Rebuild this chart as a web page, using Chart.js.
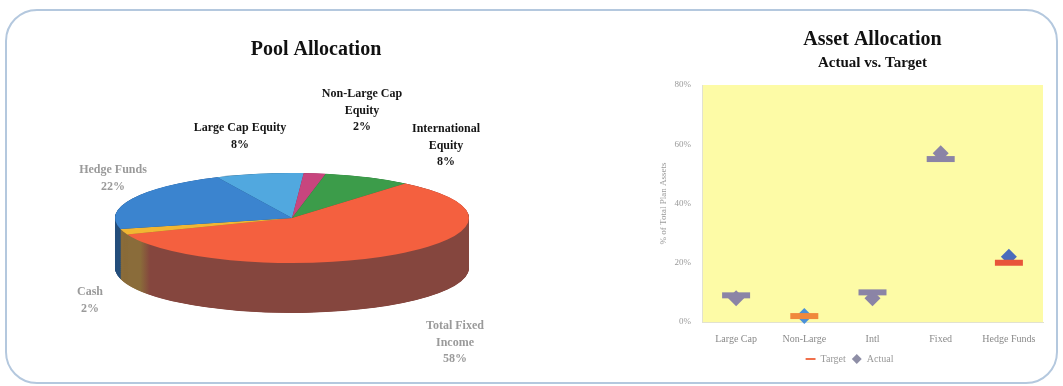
<!DOCTYPE html>
<html>
<head>
<title>Pool Allocation / Asset Allocation</title>
<script src="https://cdn.jsdelivr.net/npm/chart.js"></script>
<style>
  body { margin: 0; background: #fff; width: 1063px; height: 386px; overflow: hidden; position: relative; }
  .panel {
    position: absolute; left: 5px; top: 9px; width: 1049px; height: 371px;
    border: 2px solid #b4c8de; border-radius: 32px;
  }
  #pie { position: absolute; left: 0; top: 0; }
  #asset { position: absolute; left: 640px; top: 0; }
</style>
</head>
<body>
<div class="panel"></div>
<canvas id="pie" width="632" height="386"></canvas>
<canvas id="asset" width="423" height="386"></canvas>

<script>
// ---- data ----
const poolLabels = ['Large Cap Equity', 'Non-Large Cap Equity', 'International Equity', 'Total Fixed Income', 'Cash', 'Hedge Funds'];
const poolValues = [8, 2, 8, 58, 2, 22];
const poolLabelLines = [['Large Cap Equity'], ['Non-Large Cap', 'Equity'], ['International', 'Equity'], ['Total Fixed', 'Income'], ['Cash'], ['Hedge Funds']];

const assetCats = ['Large Cap', 'Non-Large', 'Intl', 'Fixed', 'Hedge Funds'];
const targetValues = [9, 2, 10, 55, 20];
const actualValues = [8, 2, 8, 57, 22];
const yTicks = [0, 20, 40, 60, 80];

// ---- styles ----
Chart.defaults.font.family = '"Liberation Serif", "Times New Roman", serif';

const topColors  = ['#51a8df', '#c8457e', '#3c9c4a', '#f4603f', '#f2b632', '#3b84cf'];
const sideColors = ['#2f6a90', '#7a2a4e', '#25602e', '#85463e', '#8a6c3a', '#254f7c'];
const labelAt = [[240, 128], [362, 94], [446, 129], [455, 326], [90, 292], [113, 170]];
const labelColors = ['#151515', '#151515', '#151515', '#9a9a9a', '#9a9a9a', '#9a9a9a'];

// pie face geometry on screen
const faceX = 292, faceY = 218, faceRx = 177, faceRy = 45, sideDepth = 50;

const pie3d = {
  id: 'pie3d',
  beforeDatasetsDraw(chart) {
    const arcs = chart.getDatasetMeta(0).data;
    const { x, y, outerRadius: r } = arcs[0];
    const sx = faceRx / r, sy = faceRy / r;
    const ctx = chart.ctx;
    ctx.save();
    ctx.translate(faceX, faceY);
    ctx.scale(sx, sy);
    ctx.translate(-x, -y);
    // shading on the big slice's wall: olive at the far left, brown elsewhere
    const toLocal = px => x + (px - faceX) / sx;
    const wall = ctx.createLinearGradient(toLocal(118), 0, toLocal(150), 0);
    wall.addColorStop(0, '#8a6c3a');
    wall.addColorStop(0.7, '#8a6c3a');
    wall.addColorStop(1, sideColors[3]);
    const fills = sideColors.map((c, i) => (i === 3 ? wall : c));
    // side wall: stacked copies pushed down
    const depth = sideDepth / sy;
    for (let d = depth; d > 0; d -= 1) {
      arcs.forEach((a, i) => {
        ctx.fillStyle = fills[i];
        ctx.beginPath();
        ctx.moveTo(x, y + d);
        ctx.arc(x, y + d, r, a.startAngle, a.endAngle);
        ctx.closePath();
        ctx.fill();
      });
    }
  },
  afterDatasetsDraw(chart) {
    chart.ctx.restore();
  },
  afterDraw(chart) {
    const ctx = chart.ctx;
    ctx.save();
    ctx.font = 'bold 12px "Liberation Serif", serif';
    ctx.textAlign = 'center';
    ctx.textBaseline = 'middle';
    poolLabelLines.forEach((lines, i) => {
      const all = lines.concat([poolValues[i] + '%']);
      ctx.fillStyle = labelColors[i];
      all.forEach((t, k) => ctx.fillText(t, labelAt[i][0], labelAt[i][1] + k * 16.5));
    });
    ctx.restore();
  }
};

new Chart(document.getElementById('pie'), {
  type: 'pie',
  data: {
    labels: poolLabels,
    datasets: [{ data: poolValues, backgroundColor: topColors, borderWidth: 0 }]
  },
  options: {
    responsive: false,
    animation: false,
    events: [],
    rotation: -25,
    plugins: {
      legend: { display: false },
      tooltip: { enabled: false },
      title: {
        display: true, text: 'Pool Allocation', color: '#111',
        font: { size: 20, weight: 'bold' }, padding: { top: 38, bottom: 10 }
      }
    }
  },
  plugins: [pie3d]
});

// ---- asset allocation ----
const targetColors = ['#8b84a6', '#f0883c', '#8b84a6', '#8b84a6', '#e8553a'];
const actualColors = ['#8b84a6', '#4a90d8', '#8b84a6', '#8b84a6', '#4a6cbc'];

const plotBg = {
  id: 'plotBg',
  beforeDraw(chart) {
    const { ctx, chartArea: a } = chart;
    ctx.save();
    ctx.fillStyle = '#fdfba6';
    ctx.fillRect(a.left, a.top, a.right - a.left, a.bottom - a.top);
    ctx.restore();
  }
};

new Chart(document.getElementById('asset'), {
  type: 'line',
  data: {
    labels: assetCats,
    datasets: [
      {
        label: 'Target', data: targetValues, showLine: false, clip: false,
        pointStyle: 'line', pointRadius: 14, pointBorderWidth: 6,
        pointBorderColor: targetColors, pointBackgroundColor: targetColors
      },
      {
        label: 'Actual', data: actualValues, showLine: false, clip: false,
        pointStyle: 'rectRot', pointRadius: 8, pointBorderWidth: 0,
        pointBorderColor: actualColors, pointBackgroundColor: actualColors
      }
    ]
  },
  options: {
    responsive: false,
    animation: false,
    events: [],
    layout: { padding: { left: 14, right: 18, bottom: 12 } },
    plugins: {
      tooltip: { enabled: false },
      title: {
        display: true, text: 'Asset Allocation', fullSize: false, color: '#111',
        font: { size: 20, weight: 'bold' }, padding: { top: 28, bottom: 2 }
      },
      subtitle: {
        display: true, text: 'Actual vs. Target', fullSize: false, color: '#111',
        font: { size: 15, weight: 'bold' }, padding: { bottom: 13 }
      },
      legend: {
        position: 'bottom',
        labels: {
          usePointStyle: true, boxHeight: 7, color: '#999', font: { size: 10 }, padding: 6,
          generateLabels(chart) {
            const items = Chart.defaults.plugins.legend.labels.generateLabels(chart);
            items[0].strokeStyle = '#f0704c'; items[0].fillStyle = '#f0704c'; items[0].lineWidth = 2;
            items[1].strokeStyle = '#8e8ea6'; items[1].fillStyle = '#8e8ea6'; items[1].lineWidth = 0;
            return items;
          }
        }
      }
    },
    scales: {
      x: {
        offset: true,
        grid: { display: false },
        border: { color: '#e2e2d0' },
        ticks: { color: '#8a8a8a', font: { size: 10 } }
      },
      y: {
        min: yTicks[0], max: yTicks[yTicks.length - 1],
        grid: { display: false },
        border: { color: '#e2e2d0' },
        ticks: { stepSize: yTicks[1] - yTicks[0], color: '#9a9a9a', font: { size: 9 }, callback: v => v + '%' },
        title: { display: true, text: '% of Total Plan Assets', color: '#9a9a9a', font: { size: 9 } },
        afterFit(s) { s.width = 48; }
      }
    }
  },
  plugins: [plotBg]
});
</script>
</body>
</html>
